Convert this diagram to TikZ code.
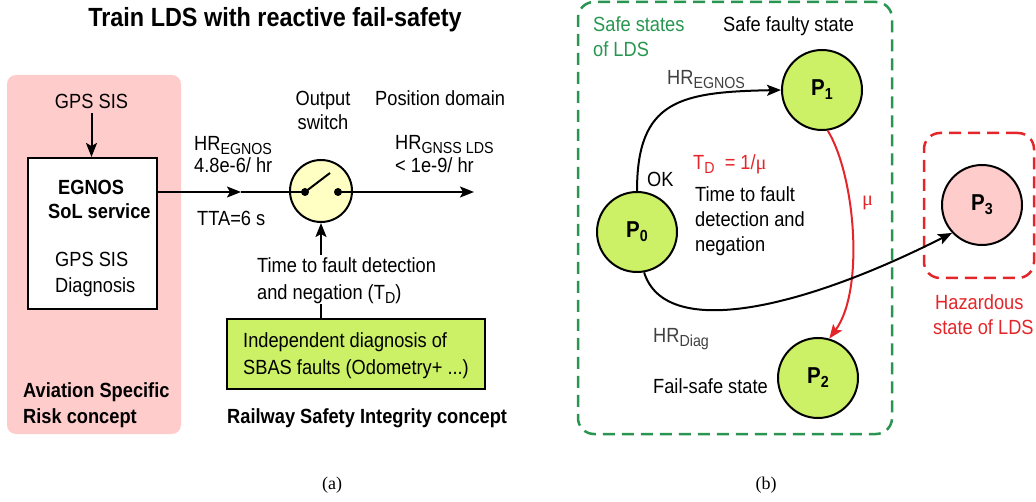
\documentclass[tikz,border=0pt]{standalone}
\usepackage{fontspec}
\setmainfont[FakeStretch=0.89]{Liberation Sans}
\newfontfamily\capfont{Liberation Serif}
\usetikzlibrary{arrows.meta}

\definecolor{pinkfill}{RGB}{255,204,204}
\definecolor{swfill}{RGB}{255,255,196}
\definecolor{limefill}{RGB}{204,240,102}
\definecolor{safegreen}{RGB}{40,150,80}
\definecolor{hazred}{RGB}{228,38,42}
\definecolor{labgray}{RGB}{64,64,64}

% lowered, smaller subscripts for rate and state labels
\newcommand{\sbx}[1]{\raisebox{-4pt}{\fontsize{16}{18}\selectfont #1}}
\newcommand{\psub}[1]{\raisebox{-4pt}{\fontsize{16}{18}\selectfont #1}}
% repair rate symbol
\newcommand{\mmu}{{\capfont μ}}

\begin{document}
\begin{tikzpicture}[x=1pt,y=-1pt,
  txt/.style={inner sep=0pt, font=\fontsize{20.5}{24}\selectfont},
  btxt/.style={inner sep=0pt, font=\fontsize{20.5}{24}\selectfont\bfseries},
  line/.style={line width=2pt},
  arr/.style={line width=2pt, -{Stealth[length=14pt,width=11pt,inset=3pt]}},
  statenode/.style={circle, draw, line width=2pt, minimum size=80pt, inner sep=0pt,
    font=\fontsize{23}{24}\selectfont\bfseries},
  zone/.style={rounded corners=16pt, line width=2.5pt, dash pattern=on 12pt off 7pt,
    inner sep=0pt},
  dot/.style={circle, fill, inner sep=0pt, minimum size=8pt},
]
\useasboundingbox (0,0) rectangle (1036,502);

% ---------------- (a) train LDS block diagram ----------------
\node[btxt, font=\fontsize{26.3}{28}\selectfont\bfseries, anchor=base] (title) at (275,27)
  {Train LDS with reactive fail-safety};

\node[fill=pinkfill, rounded corners=9pt, minimum width=174pt, minimum height=359pt,
  inner sep=0pt] (avzone) at (94,254.5) {};

\node[txt, anchor=base] (gps) at (91.5,109) {GPS SIS};
\node[draw, line width=2pt, fill=white, minimum width=129pt, minimum height=151pt,
  inner sep=0pt] (egnos) at (92.5,233.5) {};
\draw[arr, shorten <=4pt] (gps.south) -- (egnos.north -| gps.south);

\node[btxt, anchor=base west] (eg1) at (58,195) {EGNOS};
\node[btxt, anchor=base west] (eg2) at (48,219) {SoL service};
\node[txt, anchor=base west] (eg3) at (55,267) {GPS SIS};
\node[txt, anchor=base west] (eg4) at (55,293) {Diagnosis};

\node[btxt, anchor=base west] (av1) at (23,398) {Aviation Specific};
\node[btxt, anchor=base west] (av2) at (23,423) {Risk concept};

% output switch
\node[circle, draw, line width=2pt, fill=swfill, minimum size=62pt, inner sep=0pt]
  (sw) at (321,191) {};
\node[dot] (d1) at (305,192) {};
\node[dot] (d2) at (338,192) {};
\coordinate (lever) at (330,173);
\draw[line] (d1.center) -- (lever);

\coordinate (m1) at (241,192);
\coordinate (outp) at (474,192);
\draw[arr] (egnos.east |- d1) -- (m1);
\draw[line] (m1) -- (d1.center);
\draw[arr] (d2.center) -- (outp);

\node[txt, anchor=base west] (hr1) at (194,151) {HR\sbx{EGNOS}};
\node[txt, anchor=base west] (hr1v) at (194,173) {4.8e-6/ hr};
\node[txt, anchor=base west] (tta) at (197,226) {TTA=6 s};
\node[txt, anchor=base] (osw1) at (323,106) {Output};
\node[txt, anchor=base] (osw2) at (323,130) {switch};
\node[txt, anchor=base west] (posd) at (375,106) {Position domain};
\node[txt, anchor=base west] (hr2) at (395,150) {HR\sbx{GNSS LDS}};
\node[txt, anchor=base west] (hr2v) at (395,173) {< 1e-9/ hr};

% independent diagnosis path
\node[draw, line width=2pt, fill=limefill, minimum width=258pt, minimum height=70pt,
  inner sep=0pt] (diag) at (356,354) {};
\node[txt, anchor=base west] (dg1) at (243,348) {Independent diagnosis of};
\node[txt, anchor=base west] (dg2) at (243,375) {SBAS faults (Odometry+ ...)};
\node[txt, anchor=base west] (td1) at (257,273) {Time to fault detection};
\node[txt, anchor=base west] (td2) at (257,300) {and negation (T\sbx{D})};
\draw[line] (sw.south |- diag.north) -- (sw.south |- td2.south);
\draw[arr] (sw.south |- td1.north) ++(0,-3) -- (sw.south);

\node[btxt, anchor=base west] (rsi) at (227,423) {Railway Safety Integrity concept};

% ---------------- (b) state model ----------------
\node[zone, draw=safegreen, minimum width=314pt, minimum height=432pt] (safebox)
  at (735,218) {};
\node[zone, draw=hazred, minimum width=110pt, minimum height=145pt] (hazbox)
  at (979,205.5) {};

\node[txt, text=safegreen, anchor=base west] (ss1) at (593,32) {Safe states};
\node[txt, text=safegreen, anchor=base west] (ss2) at (593,57) {of LDS};
\node[txt, anchor=base west] (sfs) at (723,32) {Safe faulty state};

\node[statenode, fill=limefill] (P0) at (637,232) {P\psub{0}};
\node[statenode, fill=limefill] (P1) at (822,90) {P\psub{1}};
\node[statenode, fill=limefill] (P2) at (818,378) {P\psub{2}};
\node[statenode, fill=pinkfill] (P3) at (982,205) {P\psub{3}};

\draw[arr] (P0.north) .. controls (637,100) and (680,92) .. (P1.west);
\draw[arr, hazred] (P1.-82) .. controls (855,175) and (865,290) .. (P2.74);
\draw[arr] (P0.-80) .. controls (665,340) and (800,310) .. (P3.-137);

\node[txt, text=labgray, anchor=base west] (hre) at (667,85) {HR\sbx{EGNOS}};
\node[txt, anchor=base west] (ok) at (647,187) {OK};
\node[txt, text=hazred, anchor=base west] (tdeq) at (693,170) {T\sbx{D}\ \ = 1/\mmu};
\node[txt, anchor=base west] (tf1) at (695,202) {Time to fault};
\node[txt, anchor=base west] (tf2) at (695,227) {detection and};
\node[txt, anchor=base west] (tf3) at (695,252) {negation};
\node[txt, text=hazred, anchor=base west] (mu) at (862,206) {\mmu};
\node[txt, text=labgray, anchor=base west] (hrd) at (653,343) {HR\sbx{Diag}};
\node[txt, anchor=base west] (fss) at (653,393) {Fail-safe state};
\node[txt, text=hazred, anchor=base west] (hz1) at (935,310) {Hazardous};
\node[txt, text=hazred, anchor=base west] (hz2) at (933,335) {state of LDS};

% sub-figure captions
\node[inner sep=0pt, font=\capfont\fontsize{18}{20}\selectfont] (capa) at (332,485) {(a)};
\node[inner sep=0pt, font=\capfont\fontsize{18}{20}\selectfont] (capb) at (766,485) {(b)};
\end{tikzpicture}
\end{document}
